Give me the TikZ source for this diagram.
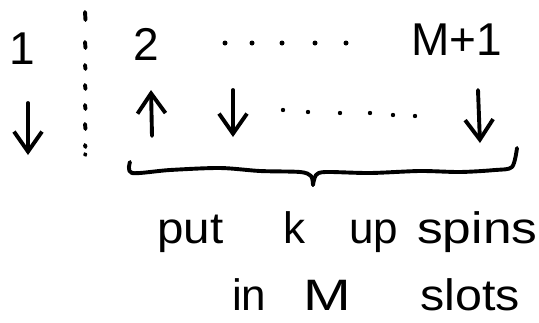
\documentclass[tikz,border=0pt]{standalone}
\usepackage{fontspec}
\setmainfont{Liberation Sans}
\usetikzlibrary{arrows.meta}
\begin{document}
\begin{tikzpicture}[x=1pt,y=-1pt,
  ink/.style={line width=3.9pt, line cap=round, line join=round},
  spinarrow/.style={ink, -{Straight Barb[length=20pt,width=28pt,line width=3.9pt]}},
  big/.style={font=\fontsize{46}{50}\selectfont, inner sep=0pt},
  word/.style={font=\fontsize{44}{48}\selectfont, inner sep=0pt, anchor=base west}]
\useasboundingbox (0,0) rectangle (539,322);
% site labels
\node[big] (one) at (22,49) {1};
\node[big] (two) at (146,44) {2};
\node[big] (last) at (457,40) {M+1};
% dotted separator
\foreach \ya/\yb in {12/20,42/48,65/69,85/89,105/109,124/129,145/147,154/155}
  \draw[ink] (85,\ya) -- (85.5,\yb);
% dots, top row
\foreach \x in {225,252,282,315,346}
  \fill (\x,43) circle (2.5pt);
% dots, bottom row
\foreach \x/\y in {283/110,308/112,340/113,370/113,393/115,415/116}
  \fill (\x,\y) circle (2.2pt);
% spin arrows
\draw[spinarrow] (28,103) -- (28,155);
\draw[spinarrow] (152,136) -- (151,90);
\draw[spinarrow] (233,90) -- (233,137);
\draw[spinarrow] (478,90) -- (480,143);
% brace
\draw[ink] plot[smooth, tension=0.5] coordinates {(130,162) (132,173) (170,170) (220,168) (260,171) (300,172) (311,176) (313,185)};
\draw[ink] plot[smooth, tension=0.5] coordinates {(313,185) (316,175) (326,172) (370,173) (420,171) (460,172) (495,170) (512,167) (517,148)};
% caption
\node[word, xscale=1.08] (w1) at (157,243) {put};
\node[word] (w2) at (283,243) {k};
\node[word] (w3) at (349,243) {up};
\node[word, xscale=1.17] (w4) at (417,243) {spins};
\node[word] (w5) at (232,310) {in};
\node[word, xscale=1.3] (w6) at (303,310) {M};
\node[word, xscale=1.1] (w7) at (420,310) {slots};
\end{tikzpicture}
\end{document}
